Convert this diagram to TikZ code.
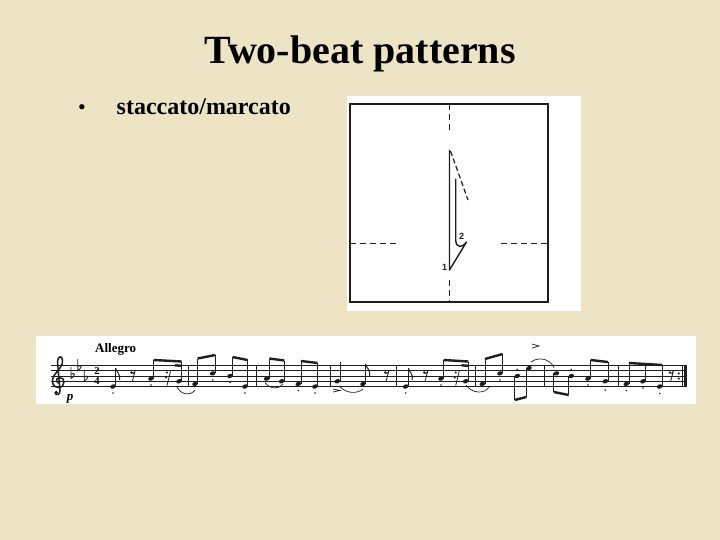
\documentclass[tikz,border=0pt]{standalone}
\usepackage{fontspec}
\setmainfont{Liberation Serif}
\setsansfont{Liberation Sans}
\definecolor{bg}{RGB}{236,228,196}
\definecolor{ink}{RGB}{30,30,30}
\newcommand\mhead[2]{\fill[ink, rotate around={20:(#1,#2)}] (#1,#2) ellipse [x radius=2.9, y radius=2.1];}
\newcommand\unote[3]{\mhead{#1}{#2}\draw[stemln] ([xshift=2.6pt]#1,#2) -- ([xshift=2.6pt]#1,#3);}
\newcommand\dnote[3]{\mhead{#1}{#2}\draw[stemln] ([xshift=-2.6pt]#1,#2) -- ([xshift=-2.6pt]#1,#3);}
\newcommand\mflag[2]{\draw[line width=1pt, ink] ([xshift=2.6pt]#1,#2) .. controls ([xshift=3.2pt,yshift=-4pt]#1,#2) and ([xshift=8pt,yshift=-6pt]#1,#2) .. ([xshift=6.5pt,yshift=-12pt]#1,#2);}
\newcommand\mbeam[4]{\draw[beamln] (#1,#2) -- (#3,#4);}
\newcommand\mbar[1]{\draw[staffln] (#1,365.5) -- (#1,386.5);}
\newcommand\erest[1]{\fill[ink] ([xshift=-1.5pt]#1,372.5) circle (1.3);\draw[line width=0.8pt, ink] ([xshift=-1.5pt]#1,372.6) .. controls ([xshift=0pt]#1,373.8) .. ([xshift=2pt]#1,371.3) -- ([xshift=-0.7pt]#1,381.5);}
\newcommand\srest[1]{\fill[ink] ([xshift=-1pt]#1,372.5) circle (1.2);\fill[ink] ([xshift=-2pt]#1,377.5) circle (1.2);\draw[line width=0.8pt, ink] ([xshift=2.5pt]#1,371.3) -- ([xshift=-1pt]#1,385.5);}
\newcommand\sdot[2]{\fill[ink] (#1,#2) circle (0.9);}
\newcommand\mflat[2]{\draw[line width=0.85pt, ink] ([yshift=9pt]#1,#2) -- ([yshift=-2.5pt]#1,#2) .. controls ([xshift=5pt,yshift=0.5pt]#1,#2) and ([xshift=4pt,yshift=4.5pt]#1,#2) .. ([yshift=1.5pt]#1,#2);}
\begin{document}
\begin{tikzpicture}[x=1pt,y=-1pt,
  diag/.style={line width=1.2pt, draw=ink},
  dashln/.style={line width=1.1pt, draw=ink, dash pattern=on 6pt off 4pt},
  stemln/.style={line width=0.7pt, draw=ink},
  staffln/.style={line width=0.6pt, draw=ink},
  beamln/.style={line width=2.4pt, draw=ink},
  slurln/.style={line width=0.7pt, draw=ink},
  lbl/.style={inner sep=0pt, text=ink}]
\useasboundingbox (0,0) rectangle (720,540);
\fill[bg] (0,0) rectangle (720,540);

% title and bullet
\node[lbl, anchor=base, text=black, font=\bfseries\fontsize{40}{48}\selectfont] (title) at (360,64) {Two-beat patterns};
\node[lbl, anchor=base, text=black, font=\fontsize{22}{26}\selectfont] (bullet) at (82,115) {•};
\node[lbl, anchor=base west, text=black, font=\bfseries\fontsize{24}{28}\selectfont] (item) at (116.5,115) {staccato/marcato};

% beat pattern diagram
\fill[white] (347,96) rectangle (581,311);
\draw[diag] (350,104) rectangle (548,302);
\draw[dashln] (449.3,104) -- (449.3,132);
\draw[dashln] (449.3,280) -- (449.3,302);
\draw[dashln] (350,243.3) -- (396,243.3);
\draw[dashln] (501,243.3) -- (548,243.3);
\draw[line width=1.4pt, ink, line join=round] (449.5,150) -- (449.5,270) -- (466.5,242) .. controls (463,247.5) and (456,249) .. (455.7,240) -- (455.7,179);
\draw[line width=1.2pt, ink, dash pattern=on 5pt off 3pt] (450.5,151) -- (468,200);
\node[lbl, font=\sffamily\bfseries\fontsize{9}{9}\selectfont] (one) at (444.5,267.5) {1};
\node[lbl, font=\sffamily\bfseries\fontsize{9}{9}\selectfont] (two) at (461.5,236.5) {2};

% music strip
\fill[white] (36,336) rectangle (696,404);
\foreach \yy in {365.5,370.75,376,381.25,386.5} \draw[staffln] (51,\yy) -- (687,\yy);
\node[lbl, anchor=base west, text=black, font=\bfseries\fontsize{13}{13}\selectfont] (tempo) at (95,352) {Allegro};
\node[lbl, text=black, font=\bfseries\itshape\fontsize{13}{13}\selectfont] (dyn) at (70,399) {p};
% clef
\draw[line width=1.5pt, ink] (60,383) .. controls (56,384) and (55,378) .. (59.5,377.5) .. controls (65.5,377) and (65.5,387) .. (59,387.5) .. controls (52.5,388) and (50.5,381) .. (54.5,375) .. controls (58,369.5) and (63.5,366) .. (62.5,360) .. controls (62,355) and (58,356) .. (57.5,361.5) -- (60,390.5) .. controls (60.5,395) and (55.5,396) .. (55,392.5);
\fill[ink] (56.2,392.5) circle (1.9);
\mflat{71}{376}\mflat{77.7}{368.1}\mflat{84.3}{378.6}
\node[lbl, text=black, align=center, font=\bfseries\fontsize{10.5}{10.6}\selectfont] (tsig) at (97,376) {2\\4};

% measure 1
\unote{113}{386.5}{368}\mflag{113}{368}
\erest{133}
\unote{151}{378.6}{360}\srest{168}\unote{179}{381.25}{361.5}
\mbeam{153.6}{360}{181.6}{361.5}\mbeam{175}{365.3}{181.6}{365.8}
\sdot{113}{393}\sdot{151}{385}
\mbar{188}
% measure 2
\unote{195}{383.9}{358.5}\unote{212.7}{373.4}{355}\mbeam{197.6}{358.5}{215.3}{355}
\unote{230}{376}{357}\unote{245}{386.5}{360}\mbeam{232.6}{357}{247.6}{360}
\sdot{212.7}{380}\sdot{230}{382.5}\sdot{245}{393}
\draw[slurln] (177,387) .. controls (181,395) and (191,396) .. (195,390);
\mbar{256.7}
% measure 3
\unote{266.7}{378.6}{358.5}\unote{281.7}{381.25}{360.5}\mbeam{269.3}{358.5}{284.3}{360.5}
\unote{298.3}{383.9}{361}\unote{315}{386.5}{363}\mbeam{300.9}{361}{317.6}{363}
\sdot{298.3}{390.5}\sdot{315}{393}
\draw[slurln] (265,382.5) .. controls (270,389.5) and (279,389.5) .. (283,384);
\mbar{330}
% measure 4
\unote{337.3}{381.25}{362}
\unote{363}{383.9}{364}\mflag{363}{364}
\draw[slurln] (339,386) .. controls (347,394) and (357,394) .. (363,389);
\draw[line width=0.7pt, ink] (333,389) -- (340,390.5) -- (333,392);
\erest{386.7}
\mbar{396.3}
% measure 5
\unote{405.7}{386.5}{368}\mflag{405.7}{368}
\erest{425.7}
\unote{441}{378.6}{360}\srest{456.7}\unote{465.7}{381.25}{361.5}
\mbeam{443.6}{360}{468.3}{361.5}\mbeam{461.7}{365.3}{468.3}{365.8}
\sdot{405.7}{393}\sdot{441}{385}
\draw[slurln] (466,385) .. controls (472,394) and (485,394) .. (489,387);
\mbar{475.7}
% measure 6
\unote{482.3}{383.9}{359}\unote{500}{373.4}{354}\mbeam{484.9}{359}{502.6}{354}
\dnote{517.3}{376}{400}\dnote{529}{368.1}{397}\mbeam{514.7}{400}{526.4}{397}
\sdot{500}{380}\sdot{517.3}{369.5}
\draw[line width=0.7pt, ink] (532,344) -- (539,346) -- (532,348);
\draw[slurln] (531,362) .. controls (538,356.5) and (550,358.5) .. (554,367.5);
\mbar{544.7}
% measure 7
\dnote{556.3}{373.4}{392}\dnote{571.3}{376}{395}\mbeam{553.7}{392}{568.7}{395}
\unote{588}{378.6}{360}\unote{605.3}{381.25}{362}\mbeam{590.6}{360}{607.9}{362}
\sdot{571.3}{369.5}\sdot{588}{385}\sdot{605.3}{390}
\mbar{618}
% measure 8
\unote{626.3}{383.9}{363}\unote{643}{381.25}{364}\unote{659.7}{386.5}{365}
\mbeam{628.9}{363}{662.3}{365}
\sdot{626.3}{390.5}\sdot{643}{388}\sdot{659.7}{393.5}
\erest{671.3}
\fill[ink] (678.8,373.4) circle (1.2);\fill[ink] (678.8,378.6) circle (1.2);
\draw[line width=0.8pt, ink] (682,365.5) -- (682,386.5);
\draw[line width=3pt, ink] (685.7,365.5) -- (685.7,386.5);
\end{tikzpicture}
\end{document}
